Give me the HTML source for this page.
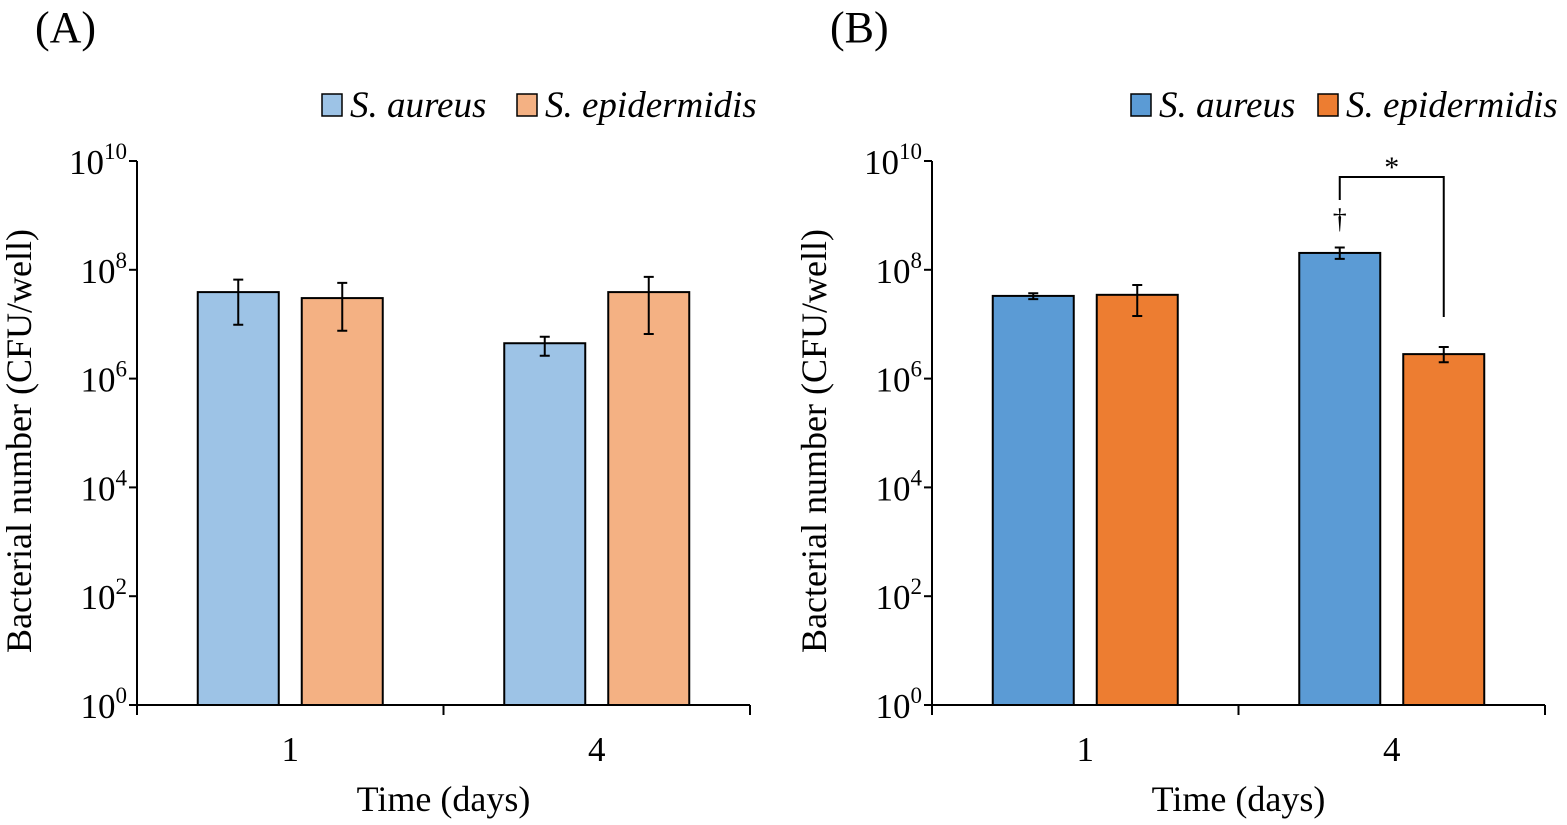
<!DOCTYPE html>
<html><head><meta charset="utf-8"><style>
html,body{margin:0;padding:0;background:#fff;}
svg{display:block;font-family:"Liberation Serif",serif;}
</style></head><body>
<svg id="chart" width="1567" height="825" viewBox="0 0 1567 825">
</svg>
<script>
const categories = ["1", "4"];
const seriesNames = ["S. aureus", "S. epidermidis"];
// log10 values
const panelAValues = [[7.59, 6.65], [7.48, 7.59]];
const panelAErrHi = [[7.82, 6.77], [7.76, 7.87]];
const panelAErrLo = [[6.99, 6.42], [6.88, 6.82]];
const panelBValues = [[7.52, 8.31], [7.54, 6.45]];
const panelBErrHi = [[7.57, 8.41], [7.72, 6.58]];
const panelBErrLo = [[7.46, 8.2], [7.15, 6.3]];
const yTicks = [0, 2, 4, 6, 8, 10];

const svg = document.getElementById('chart');
const NS = 'http://www.w3.org/2000/svg';
function mk(tag, attrs, parent) {
  const e = document.createElementNS(NS, tag);
  for (const k in attrs) e.setAttribute(k, attrs[k]);
  (parent || svg).appendChild(e);
  return e;
}
const Y0 = 705, Y10 = 161;
function yScale(v) { return Y0 - (Y0 - Y10) * v / 10; }

function panel(id, x0, label, colors, vals, hi, lo, legX) {
  const g = mk('g', {});
  
  
  const W = 613;
  const xScale = (ci, si) => x0 + W / 4 + ci * W / 2 + (si === 0 ? -52 : 52);
  const pl = mk('text', {x: x0 - 102, y: 42, 'font-size': 44}, g);
  pl.textContent = label;
  
  
  seriesNames.forEach((n, si) => {
    const lx = legX[si];
    const r = mk('rect', {x: lx, y: 94, width: 20, height: 22, fill: colors[si], stroke: '#000', 'stroke-width': 1.5}, g);
    
    
    const t = mk('text', {x: lx + 28, y: 117, 'font-size': 37, 'font-style': 'italic'}, g);
    t.textContent = n;
    
    
  });
  const ya = mk('line', {x1: x0, y1: Y10, x2: x0, y2: Y0, stroke: '#000', 'stroke-width': 2}, g);
  
  
  const xa = mk('line', {x1: x0, y1: Y0, x2: x0 + W, y2: Y0, stroke: '#000', 'stroke-width': 2}, g);
  
  
  [0, 0.5, 1].forEach(f => mk('line', {x1: x0 + f * W, y1: Y0, x2: x0 + f * W, y2: Y0 + 10, stroke: '#000', 'stroke-width': 2}, g));
  yTicks.forEach(v => {
    const y = yScale(v);
    mk('line', {x1: x0 - 8, y1: y, x2: x0, y2: y, stroke: '#000', 'stroke-width': 2}, g);
    const t = mk('text', {x: x0 - 10, y: y + 13, 'font-size': 35, 'text-anchor': 'end'}, g);
    t.innerHTML = '10<tspan dy="-15" font-size="23">' + v + '</tspan>';
    
    
  });
  categories.forEach((c, ci) => {
    const t = mk('text', {x: x0 + W / 4 + ci * W / 2, y: 761, 'font-size': 35, 'text-anchor': 'middle'}, g);
    t.textContent = c;
    
    
  });
  const xt = mk('text', {x: x0 + W / 2, y: 811, 'font-size': 36, 'text-anchor': 'middle'}, g);
  xt.textContent = 'Time (days)';
  
  
  const yt = mk('text', {x: 0, y: 0, 'font-size': 36, 'text-anchor': 'middle', transform: `translate(${x0 - 106},${(Y0 + Y10) / 2 + 8}) rotate(-90)`}, g);
  yt.textContent = 'Bacterial number (CFU/well)';
  
  
  vals.forEach((sv, si) => sv.forEach((v, ci) => {
    const cx = xScale(ci, si);
    const b = mk('rect', {x: cx - 40.5, y: yScale(v), width: 81, height: Y0 - yScale(v), fill: colors[si], stroke: '#000', 'stroke-width': 2}, g);
    
    
    const yh = yScale(hi[si][ci]), yl = yScale(lo[si][ci]);
    const e = mk('path', {d: `M${cx},${yh}V${yl}M${cx - 5},${yh}H${cx + 5}M${cx - 5},${yl}H${cx + 5}`, stroke: '#000', 'stroke-width': 2, fill: 'none'}, g);
    
    
  }));
  return {xScale, g};
}
panel('a', 137, '(A)', ['#9dc3e6', '#f4b183'], panelAValues, panelAErrHi, panelAErrLo, [322, 517]);
const pb = panel('b', 932, '(B)', ['#5b9bd5', '#ed7d31'], panelBValues, panelBErrHi, panelBErrLo, [1131, 1318]);
const bx1 = pb.xScale(1, 0), bx2 = pb.xScale(1, 1);
const br = mk('path', {d: `M${bx1},200V177H${bx2}V${yScale(panelBErrHi[1][1]) - 30}`, stroke: '#000', 'stroke-width': 2, fill: 'none'});


const st = mk('text', {x: (bx1 + bx2) / 2, y: 177, 'font-size': 30, 'text-anchor': 'middle'});
st.textContent = '*';


const dg = mk('text', {x: bx1, y: 228, 'font-size': 28, 'text-anchor': 'middle'});
dg.textContent = '†';


</script>
</body></html>
